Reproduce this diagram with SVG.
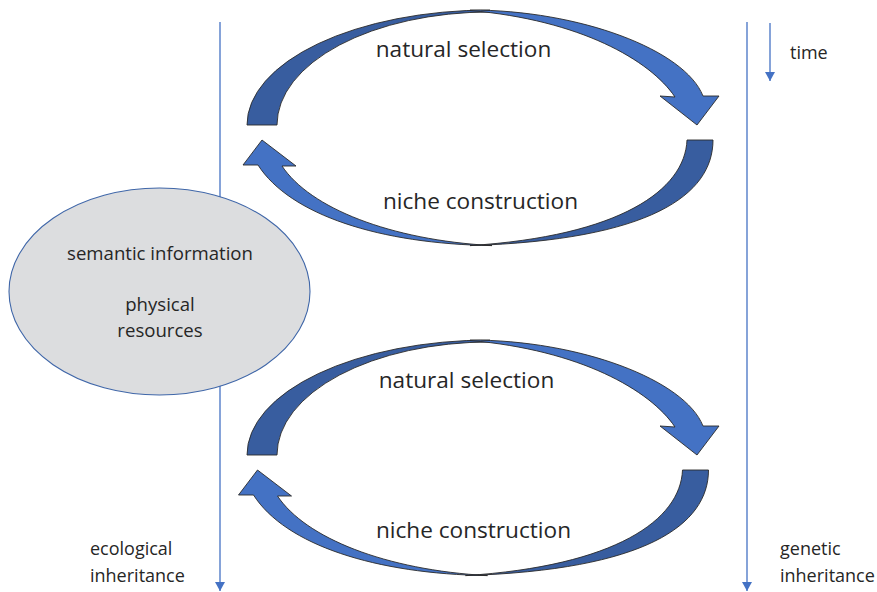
<svg xmlns="http://www.w3.org/2000/svg" width="877" height="592" viewBox="0 0 877 592">
<style>
.lbl{font-family:"Open Sans","Liberation Sans",sans-serif;fill:#262626}
.big{font-size:22.6px}
.sm{font-size:18px}
.dark{fill:#385D9F;stroke:#2a2a2a;stroke-width:0.9;stroke-linejoin:round}
.light{fill:#4472C4;stroke:#2a2a2a;stroke-width:0.9;stroke-linejoin:round}
.vline{stroke:#4472C4;stroke-width:1.3;fill:none}
</style>
<defs>
<marker id="ah" markerWidth="10" markerHeight="10" refX="9" refY="5" orient="auto" markerUnits="userSpaceOnUse" viewBox="0 0 10 10">
<path d="M0,0 L9,5 L0,10 Z" fill="#4472C4"/>
</marker>
<g id="nsArrow">
<path class="dark" d="M247 125 A243 115 0 0 1 490 10 L490 12 A213 113 0 0 0 277 125 Z"/>
<path class="light" d="M470 10 C580 10 685 50 703 96 L719 96 L697 125 L660 96 L675 97 C650 60 580 20 470 10.5 Z"/>
</g>
<g id="ncArrow">
<path class="dark" d="M687 140 L713 140 C713 195 650 240 470 245.6 C620 236 685 190 687 140 Z"/>
<path class="light" d="M492 245.6 C380 244 290 215 258 165 L243 165 L262 140 L296 166 L282 166 C310 208 390 240 492 245.6 Z"/>
</g>
</defs>
<g id="connectors">
<line class="vline" x1="220" y1="22" x2="220" y2="591" marker-end="url(#ah)"/>
<line class="vline" x1="747" y1="22" x2="747" y2="591" marker-end="url(#ah)"/>
<line class="vline" x1="770" y1="23" x2="770" y2="81" marker-end="url(#ah)"/>
</g>
<g id="pool">
<ellipse cx="159.5" cy="291.5" rx="150.5" ry="103.5" fill="#DCDDDF" stroke="#3F66A8" stroke-width="1.1"/>
<text class="lbl" font-size="18.6" x="160" y="260" text-anchor="middle">semantic information</text>
<text class="lbl" font-size="18.6" x="160" y="311" text-anchor="middle">physical</text>
<text class="lbl" font-size="18.6" x="160" y="337" text-anchor="middle">resources</text>
</g>
<g id="cycle1">
<use href="#nsArrow"/>
<use href="#ncArrow"/>
<text class="lbl big" x="463.5" y="57" text-anchor="middle">natural selection</text>
<text class="lbl big" x="480.5" y="209" text-anchor="middle">niche construction</text>
</g>
<g id="cycle2">
<use href="#nsArrow" transform="translate(0,330)"/>
<use href="#ncArrow" transform="translate(-4.5,330)"/>
<text class="lbl big" x="466.5" y="388" text-anchor="middle">natural selection</text>
<text class="lbl big" x="473.5" y="538" text-anchor="middle">niche construction</text>
</g>
<g id="labels">
<text class="lbl sm" x="790" y="59">time</text>
<text class="lbl sm" x="90" y="555">ecological</text>
<text class="lbl sm" x="90" y="582">inheritance</text>
<text class="lbl sm" x="780" y="555">genetic</text>
<text class="lbl sm" x="780" y="582">inheritance</text>
</g>
</svg>
